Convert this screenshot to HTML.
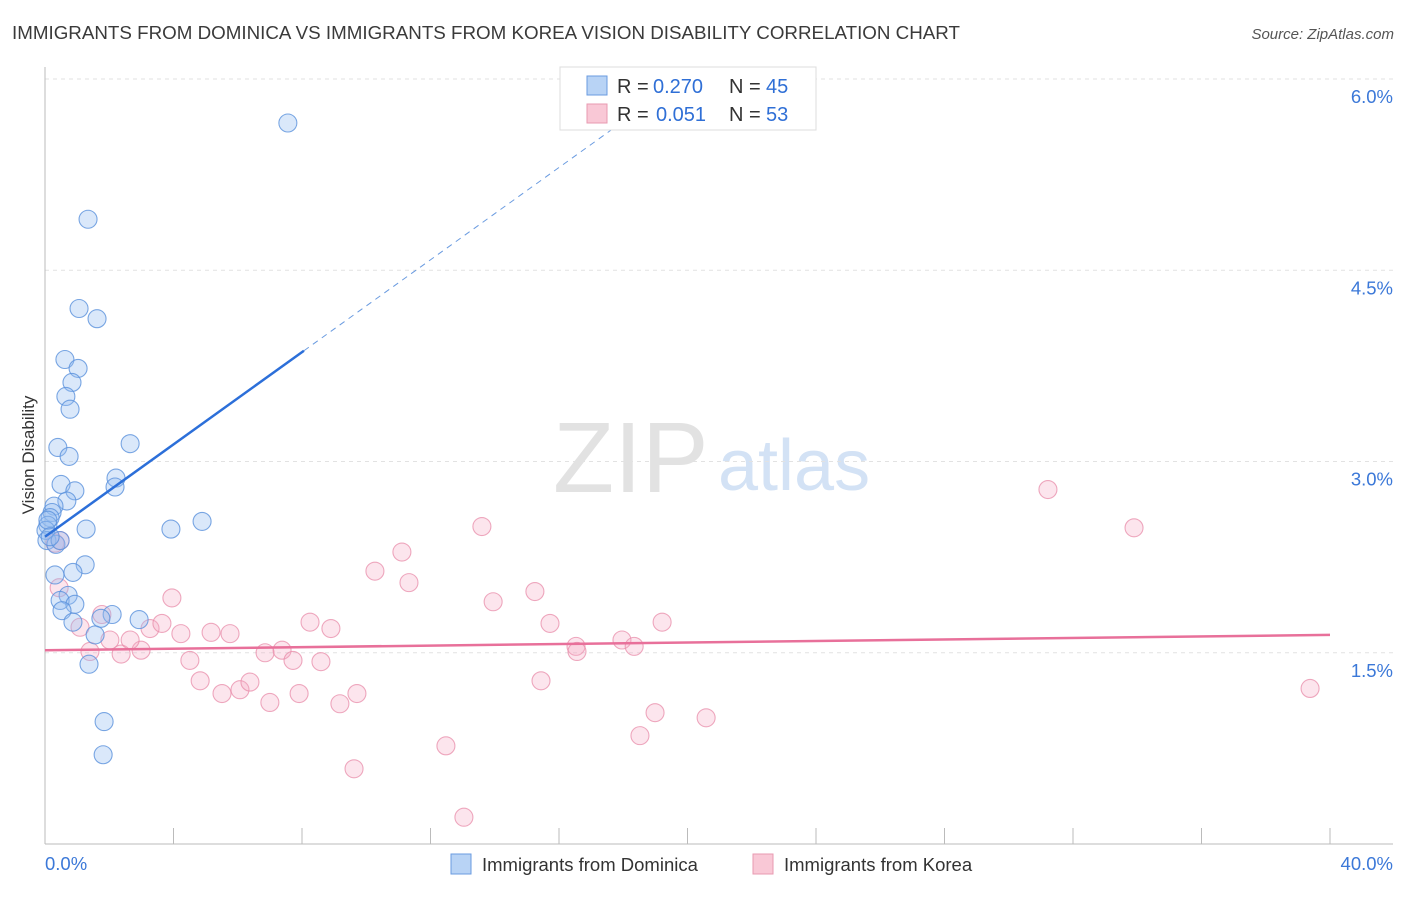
<!DOCTYPE html>
<html><head><meta charset="utf-8"><style>
body{margin:0;background:#fff;font-family:"Liberation Sans",sans-serif;}
svg text{font-family:"Liberation Sans",sans-serif;}
</style></head><body>
<svg id="c" width="1406" height="892">
<text x="12" y="39" font-size="18.5" fill="#3a3a3a" textLength="948" lengthAdjust="spacingAndGlyphs">IMMIGRANTS FROM DOMINICA VS IMMIGRANTS FROM KOREA VISION DISABILITY CORRELATION CHART</text>
<text x="1394" y="39" font-size="15" fill="#555" font-style="italic" text-anchor="end">Source: ZipAtlas.com</text>
<text x="0" y="0" transform="translate(34,455) rotate(-90)" font-size="17" fill="#333" text-anchor="middle">Vision Disability</text>
<g><text x="553" y="492" font-size="100" fill="#e2e2e2" font-family="Liberation Serif">ZIP</text><text x="718" y="490" font-size="72" fill="#d3e2f5">atlas</text></g>
<g id="grid"></g><g id="marks"></g>
<g>
<rect x="560" y="67" width="256" height="63" fill="#fff" stroke="#ddd"/>
<rect x="587" y="76" width="20" height="19" fill="#b8d3f5" stroke="#6a9be0"/>
<rect x="587" y="104" width="20" height="19" fill="#f9c8d6" stroke="#e89ab0"/>
<text x="617" y="93" font-size="20" fill="#333">R =</text><text x="653" y="93" font-size="20" fill="#2f6fd6">0.270</text>
<text x="729" y="93" font-size="20" fill="#333">N =</text><text x="766" y="93" font-size="20" fill="#2f6fd6">45</text>
<text x="617" y="121" font-size="20" fill="#333">R =</text><text x="656" y="121" font-size="20" fill="#2f6fd6">0.051</text>
<text x="729" y="121" font-size="20" fill="#333">N =</text><text x="766" y="121" font-size="20" fill="#2f6fd6">53</text>
</g>
<g>
<rect x="451" y="854" width="20" height="20" fill="#b8d3f5" stroke="#6a9be0"/>
<text x="482" y="871" font-size="18.5" fill="#333">Immigrants from Dominica</text>
<rect x="753" y="854" width="20" height="20" fill="#f9c8d6" stroke="#e89ab0"/>
<text x="784" y="871" font-size="18.5" fill="#333">Immigrants from Korea</text>
</g>
</svg>
<script>
const yTicks=[1.5,3.0,4.5,6.0];
const xTickLabels=["0.0%","40.0%"];
const blueX=[7.56,1.34,1.06,1.62,0.62,1.03,0.84,0.65,0.78,0.40,2.65,0.75,2.21,2.18,0.50,0.93,0.68,0.28,0.22,0.16,1.28,3.92,4.89,0.09,0.03,0.06,0.34,0.47,1.25,0.31,0.87,0.72,0.47,0.93,0.53,2.09,1.74,0.87,2.93,1.56,1.37,1.84,1.81,0.09,0.16];
const blueY=[5.655,4.90,4.20,4.12,3.80,3.73,3.62,3.51,3.41,3.11,3.14,3.04,2.87,2.80,2.82,2.77,2.69,2.65,2.60,2.56,2.47,2.47,2.53,2.50,2.46,2.38,2.35,2.38,2.19,2.11,2.13,1.95,1.91,1.88,1.83,1.80,1.77,1.74,1.76,1.64,1.41,0.96,0.70,2.54,2.41];
const pinkX=[0.31,0.47,0.44,1.09,1.77,2.02,1.40,2.37,2.99,2.65,3.27,3.64,3.95,4.23,4.51,4.83,5.17,5.51,5.76,6.07,6.38,6.85,7.00,7.38,7.72,7.91,8.25,8.59,8.90,9.18,9.62,9.71,10.27,11.11,11.33,12.48,13.04,13.60,13.95,15.25,15.44,15.72,16.53,16.56,17.96,18.34,18.52,18.99,19.21,20.58,31.22,33.90,39.38];
const pinkY=[2.36,2.38,2.01,1.70,1.80,1.60,1.51,1.49,1.52,1.60,1.69,1.73,1.93,1.65,1.44,1.28,1.66,1.18,1.65,1.21,1.27,1.50,1.11,1.52,1.44,1.18,1.74,1.43,1.69,1.10,0.59,1.18,2.14,2.29,2.05,0.77,0.21,2.49,1.90,1.98,1.28,1.73,1.55,1.51,1.60,1.55,0.85,1.03,1.74,0.99,2.78,2.48,1.22];
const blueTrend=[2.41,0.181];
const pinkTrend=[1.52,0.003];
const NS="http://www.w3.org/2000/svg";
const X=v=>45+v/40*1285, Y=v=>844-v*127.5;
function mk(t,a,p){const e=document.createElementNS(NS,t);for(const k in a)e.setAttribute(k,a[k]);p.appendChild(e);return e;}
const g=document.getElementById('grid'),m=document.getElementById('marks');
yTicks.forEach(t=>{
 const l=mk('line',{x1:45,x2:1393,y1:Y(t),y2:Y(t),stroke:'#e2e2e2','stroke-dasharray':'4,4'},g);
 
 
 const tx=mk('text',{x:1393,y:Y(t)+24,'font-size':18.5,fill:'#3b78d8','text-anchor':'end'},g);
 tx.textContent=t.toFixed(1)+'%';
 
 
});
mk('line',{x1:45,x2:45,y1:67,y2:844,stroke:'#bbb'},g);
mk('line',{x1:45,x2:1393,y1:844,y2:844,stroke:'#bbb'},g);
for(let i=1;i<=10;i++){const tk=mk('line',{x1:X(i*4),x2:X(i*4),y1:828,y2:844,stroke:'#bbb'},g);
 
 }
const xl0=mk('text',{x:45,y:870,'font-size':18.5,fill:'#3b78d8'},g);xl0.textContent=xTickLabels[0];


const xl1=mk('text',{x:1393,y:870,'font-size':18.5,fill:'#3b78d8','text-anchor':'end'},g);xl1.textContent=xTickLabels[1];


pinkX.forEach((x,i)=>{const c=mk('circle',{cx:X(x),cy:Y(pinkY[i]),r:9,fill:'rgba(246,170,195,0.3)',stroke:'rgba(232,140,170,0.75)','stroke-width':1.1},m);
 
 });
blueX.forEach((x,i)=>{const c=mk('circle',{cx:X(x),cy:Y(blueY[i]),r:9,fill:'rgba(150,190,240,0.35)',stroke:'rgba(90,145,220,0.8)','stroke-width':1.1},m);
 
 });
const bt=v=>blueTrend[0]+blueTrend[1]*v, pt=v=>pinkTrend[0]+pinkTrend[1]*v;
const l1=mk('line',{x1:X(0),y1:Y(bt(0)),x2:X(8.06),y2:Y(bt(8.06)),stroke:'#2c6fd9','stroke-width':2.5},m);


const l2=mk('line',{x1:X(8.06),y1:Y(bt(8.06)),x2:X(18),y2:Y(bt(18)),stroke:'#6a9be0','stroke-width':1,'stroke-dasharray':'6,5'},m);


const l3=mk('line',{x1:X(0),y1:Y(pt(0)),x2:X(40),y2:Y(pt(40)),stroke:'#e8709a','stroke-width':2.5},m);


</script>
</body></html>
